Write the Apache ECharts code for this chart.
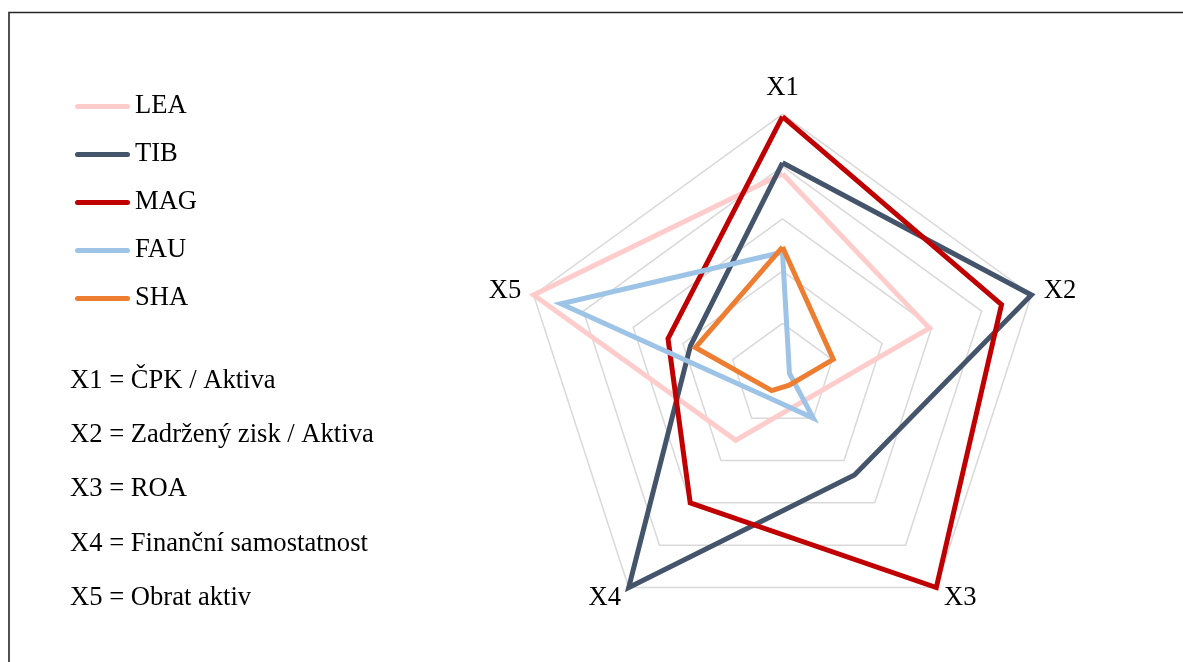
<!DOCTYPE html>
<html>
<head>
<meta charset="utf-8">
<script src="https://cdn.jsdelivr.net/npm/echarts@6/dist/echarts.min.js"></script>
<style>
  html, body { margin: 0; padding: 0; background: #fff; }
  #chart { width: 1183px; height: 662px; }
</style>
</head>
<body>
<div id="chart"></div>
<script>
// Indicator names and company scores (X1..X5 order)
const indicatorNames = ['X1', 'X2', 'X3', 'X4', 'X5'];
const companyNames = ['LEA', 'TIB', 'MAG', 'FAU', 'SHA'];
const LEA = [3.86, 2.95, 0.62, 1.52, 5.00];
const TIB = [4.07, 5.00, 2.34, 5.00, 1.85];
const MAG = [4.95, 4.40, 5.00, 3.00, 2.30];
const FAU = [2.36, 0.14, 1.00, 0.50, 4.45];
const SHA = [2.46, 1.02, 0.22, 0.35, 1.75];
const axisMax = 5;
const legendNotes = [
  'X1 = ČPK / Aktiva',
  'X2 = Zadržený zisk / Aktiva',
  'X3 = ROA',
  'X4 = Finanční samostatnost',
  'X5 = Obrat aktiv'
];

const seriesValues = { LEA, TIB, MAG, FAU, SHA };
const colors = {
  LEA: '#FFCCCC',
  TIB: '#44546A',
  MAG: '#C00000',
  FAU: '#9DC3E6',
  SHA: '#ED7D31'
};
const FONT = '"Liberation Serif", "Times New Roman", serif';
const FONT_SIZE = 26.6;

// ECharts lays radar indicators out counter-clockwise from the top;
// reorder so X2 sits on the right and X5 on the left.
const displayOrder = [0, 4, 3, 2, 1];
const reorder = arr => displayOrder.map(i => arr[i]);

const chart = echarts.init(document.getElementById('chart'), null, { renderer: 'canvas' });

const capsule = 'path://M2.5,0 L52.5,0 A2.5,2.5 0 0 1 52.5,5 L2.5,5 A2.5,2.5 0 0 1 2.5,0 Z';

const option = {
  backgroundColor: '#ffffff',
  animation: false,
  legend: {
    orient: 'vertical',
    left: 70,
    top: 88,
    itemWidth: 55,
    itemHeight: 5,
    itemGap: 21,
    icon: capsule,
    data: companyNames,
    textStyle: {
      color: '#000',
      fontFamily: FONT,
      fontSize: FONT_SIZE,
      lineHeight: 26
    }
  },
  radar: {
    center: [782.5, 375.8],
    radius: 261.7,
    startAngle: 90,
    splitNumber: 5,
    shape: 'polygon',
    nameGap: 13,
    axisName: {
      color: '#000',
      fontFamily: FONT,
      fontSize: FONT_SIZE
    },
    indicator: reorder(indicatorNames).map(n => ({ name: n, min: 0, max: axisMax })),
    axisLine: { show: false },
    axisTick: { show: false },
    axisLabel: { show: false },
    splitArea: { show: false },
    splitLine: { lineStyle: { color: '#d9d9d9', width: 1.5 } }
  },
  series: companyNames.map((name, i) => ({
    type: 'radar',
    name: name,
    z: 2 + i,
    symbol: 'none',
    silent: true,
    lineStyle: { color: colors[name], width: 5, join: 'miter', miterLimit: 10 },
    itemStyle: { color: colors[name] },
    data: [{ name: name, value: reorder(seriesValues[name]) }]
  })),
  graphic: [
    {
      type: 'rect',
      silent: true,
      shape: { x: 9, y: 12.5, width: 1260, height: 720 },
      style: { fill: 'none', stroke: '#262626', lineWidth: 1.6 }
    },
    ...legendNotes.map((t, i) => ({
      type: 'text',
      silent: true,
      x: 70,
      y: 381 + i * 54.2,
      style: {
        text: t,
        fill: '#000',
        font: FONT_SIZE + 'px ' + FONT,
        verticalAlign: 'middle',
        align: 'left'
      }
    }))
  ]
};

chart.setOption(option);
</script>
</body>
</html>
